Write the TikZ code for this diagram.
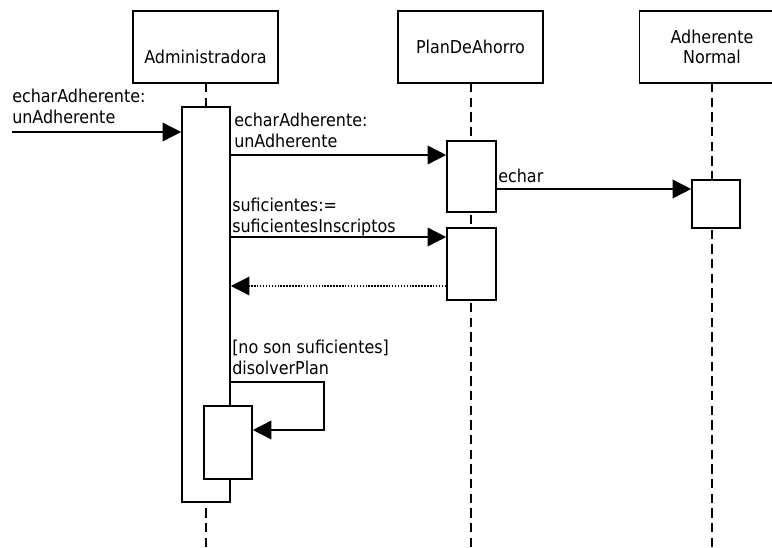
\documentclass[tikz,border=0pt]{standalone}
\usepackage{fontspec}
\setmainfont{DejaVu Sans Condensed}
\usetikzlibrary{arrows.meta}
\begin{document}
\begin{tikzpicture}[x=0.75pt,y=-0.75pt,
  every node/.style={font=\fontsize{13.3pt}{15.5pt}\selectfont},
  objbox/.style={draw, line width=1.2pt, minimum width=108.75pt, minimum height=54pt, inner sep=0pt, align=center},
  act/.style={draw, fill=white, line width=1.2pt, minimum width=36pt, inner sep=0pt},
  lifeline/.style={line width=1.2pt, dash pattern=on 7pt off 4pt},
  msg/.style={line width=1.2pt, -{Triangle[length=14pt,width=14pt]}},
  ret/.style={line width=1.1pt, dash pattern=on 1.1pt off 1.1pt, -{Triangle[length=14pt,width=14pt]}},
  lbl/.style={anchor=base west, align=left, inner sep=0pt}]
\useasboundingbox (0,0) rectangle (772,547);
% objects
\node[objbox, text height=24pt, text depth=0pt] (admin) at (205.5,47) {Administradora};
\node[objbox] (plan) at (470.5,47) {PlanDeAhorro};
\node[objbox] (adh) at (712,47) {Adherente\\Normal};
% lifelines
\draw[lifeline] (206,83) -- (206,547);
\draw[lifeline] (471,83) -- (471,547);
\draw[lifeline] (712,83) -- (712,547);
% activations
\node[act, minimum height=296.25pt] (aact) at (206,304.5) {};
\node[act, minimum height=53.25pt, minimum width=36.75pt] (pact1) at (471.5,176.5) {};
\node[act, minimum height=54pt, minimum width=36.75pt] (pact2) at (471.5,264) {};
\node[act, minimum height=36pt] (hact) at (716,204) {};
\node[act, minimum height=54.75pt] (nact) at (228,442.5) {};
% incoming
\coordinate (start) at (12,132);
\draw[msg] (start) -- (aact.west |- start);
\node[lbl] (l0) at (12,123) {echarAdherente:\\unAdherente};
% m1
\coordinate (m1) at (230,155);
\draw[msg] (aact.east |- m1) -- (pact1.west |- m1);
\node[lbl] (l1) at (234,147) {echarAdherente:\\unAdherente};
% echar
\coordinate (m3) at (496,189);
\draw[msg] (pact1.east |- m3) -- (hact.west |- m3);
\node[lbl] (l3) at (498,182) {echar};
% m2
\coordinate (m2) at (230,237);
\draw[msg] (aact.east |- m2) -- (pact2.west |- m2);
\node[lbl] (l2) at (232,232) {suficientes:=\\suficientesInscriptos};
% return
\coordinate (r) at (447,286);
\draw[ret] (pact2.west |- r) -- (aact.east |- r);
% self call
\coordinate (s1) at (230,382);
\coordinate (s2) at (324,382);
\coordinate (s3) at (324,430);
\draw[msg] (aact.east |- s1) -- (s2) -- (s3) -- (nact.east |- s3);
\node[lbl] (l4) at (232,374) {[no son suficientes]\\disolverPlan};
\end{tikzpicture}
\end{document}
